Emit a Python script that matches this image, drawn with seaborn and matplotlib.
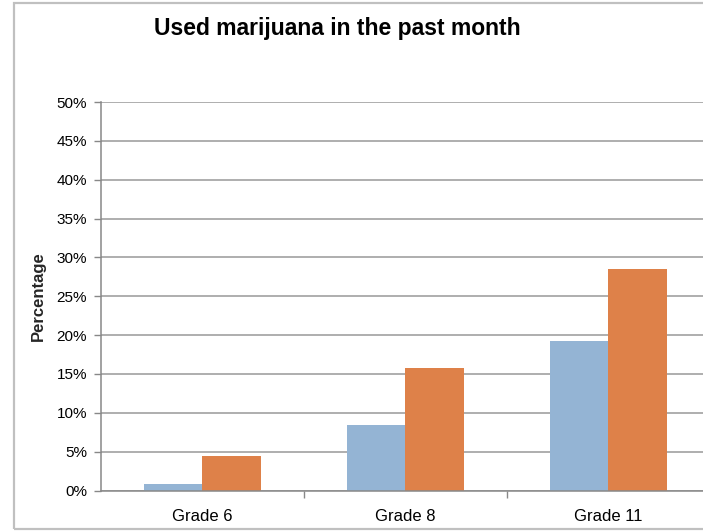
import matplotlib
matplotlib.use("Agg")
import matplotlib.pyplot as plt
import matplotlib.patches as patches
from matplotlib.ticker import PercentFormatter, FixedLocator
import seaborn as sns
import pandas as pd

# data
grades = ["Grade 6", "Grade 8", "Grade 11"]
series_a = [0.009, 0.084, 0.193]   # blue bars
series_b = [0.044, 0.158, 0.285]   # orange bars
series_names = ["Series A", "Series B"]
y_ticks = [i * 0.05 for i in range(11)]

df = pd.DataFrame({
    "Grade": grades * 2,
    "Series": [series_names[0]] * 3 + [series_names[1]] * 3,
    "Value": series_a + series_b,
})

sns.set_style("white")
plt.rcParams["font.family"] = ["Liberation Sans", "DejaVu Sans"]
plt.rcParams["text.color"] = "black"
plt.rcParams["xtick.labelcolor"] = "black"
plt.rcParams["ytick.labelcolor"] = "black"

fig = plt.figure(figsize=(7.03, 5.31), dpi=100)
# plot area runs past the right edge like the cropped original
ax = fig.add_axes([101 / 703, 40.5 / 531, 609 / 703, 388.5 / 531])

sns.barplot(data=df, x="Grade", y="Value", hue="Series",
            palette=["#94B4D4", "#DE8149"], width=0.576, gap=0,
            saturation=1, legend=False, linewidth=0, ax=ax)

ax.set_xlim(-0.5, 2.5)
ax.set_ylim(0, 0.5)
ax.set_yticks(y_ticks)
ax.yaxis.set_major_formatter(PercentFormatter(1.0, decimals=0))
ax.yaxis.grid(True, color="#999999", linewidth=1.1)
ax.set_axisbelow(True)

# category boundaries get the small ticks, labels sit in the middle
ax.xaxis.set_minor_locator(FixedLocator([0.5, 1.5]))
ax.tick_params(axis="x", which="major", length=0, pad=13, labelsize=12)
ax.tick_params(axis="x", which="minor", length=5, width=1, color="#888888",
               direction="out", bottom=True)
ax.tick_params(axis="y", length=5, width=1, color="#888888", pad=5,
               labelsize=11, left=True, direction="out")

for side in ["top", "right"]:
    ax.spines[side].set_visible(False)
for side in ["left", "bottom"]:
    ax.spines[side].set_color("#888888")
    ax.spines[side].set_linewidth(1.1)

ax.set_xlabel("")
ax.set_ylabel("Percentage", fontsize=12, fontweight="bold", labelpad=8)

fig.text(337 / 703, 1 - 28 / 531, "Used marijuana in the past month",
         fontsize=16.5, fontweight="bold", ha="center", va="center")

# chart frame
frame = patches.Rectangle((14 / 703, 2 / 531), 1.2, 526 / 531,
                          transform=fig.transFigure, fill=False,
                          edgecolor="#C0C0C0", linewidth=1.6)
fig.patches.append(frame)

fig.savefig("out.png", dpi=100)
